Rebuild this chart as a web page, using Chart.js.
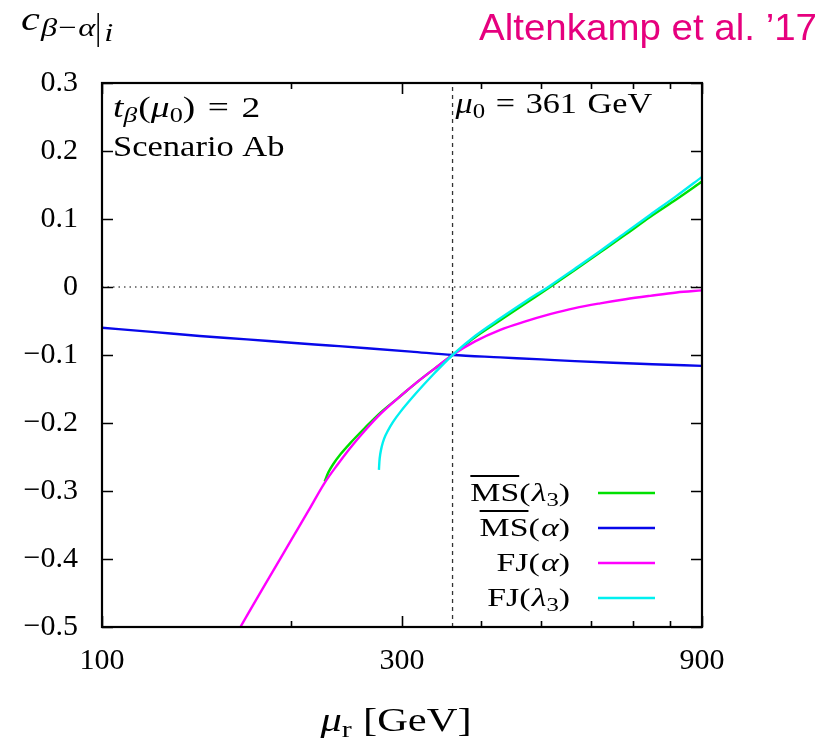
<!DOCTYPE html>
<html><head><meta charset="utf-8">
<script src="https://cdn.jsdelivr.net/npm/chart.js@4/dist/chart.umd.min.js"></script>
<style>html,body{margin:0;padding:0;background:#fff}#wrap{width:824px;height:744px;position:relative}</style>
</head><body><div id="wrap"><canvas id="c" width="824" height="744"></canvas></div>
<script>
// ---- data ----
const xTickValues = [100, 200, 300, 400, 500, 600, 700, 800, 900];
const xTickLabels = [100, 300, 900];
const yTickValues = [-0.5, -0.4, -0.3, -0.2, -0.1, 0, 0.1, 0.2, 0.3];
const muZero = 361;

const muMSl3 = [226, 229, 233, 240, 248, 262, 277, 296, 316, 338, 361, 392, 430, 470, 516, 565, 620, 680, 744, 820, 900];
const cMSl3  = [-0.286, -0.273, -0.261, -0.245, -0.230, -0.207, -0.185, -0.163, -0.141, -0.120, -0.100, -0.074, -0.049, -0.025, 0.000, 0.025, 0.051, 0.077, 0.103, 0.129, 0.155];

const muMSa = [100, 120, 143, 170, 200, 230, 264, 310, 361, 430, 500, 565, 650, 750, 900];
const cMSa  = [-0.060, -0.066, -0.072, -0.077, -0.082, -0.086, -0.090, -0.095, -0.100, -0.1035, -0.1065, -0.109, -0.1115, -0.1135, -0.116];

const muFJa = [150, 166, 180, 200, 213, 226, 237, 248, 262, 277, 296, 316, 338, 361, 392, 430, 470, 516, 565, 620, 680, 744, 820, 900];
const cFJa  = [-0.570, -0.500, -0.444, -0.372, -0.329, -0.288, -0.261, -0.237, -0.211, -0.187, -0.163, -0.141, -0.120, -0.100, -0.080, -0.063, -0.051, -0.040, -0.031, -0.024, -0.018, -0.013, -0.008, -0.005];

const muFJl3 = [275.7, 276.2, 277, 278.5, 281, 285, 290, 298, 316, 336, 361, 392, 430, 470, 516, 565, 620, 680, 744, 820, 900];
const cFJl3  = [-0.269, -0.256, -0.246, -0.235, -0.223, -0.211, -0.199, -0.184, -0.156, -0.129, -0.100, -0.072, -0.046, -0.022, 0.002, 0.027, 0.053, 0.080, 0.106, 0.134, 0.162];

const seriesNames = ['MS(λ3)', 'MS(α)', 'FJ(α)', 'FJ(λ3)'];
const seriesColors = ['#00e000', '#0808ea', '#ff00ff', '#00f0f0'];

// ---- helpers ----
const SERIF = '"Liberation Serif", "DejaVu Serif", serif';
const rm = n => `${n}px ${SERIF}`;
const it = n => `italic ${n}px ${SERIF}`;
const pts = (xs, ys) => xs.map((x, i) => ({x: x, y: ys[i]}));

function drawRuns(ctx, list, x, y, align, sx) {
  let w = 0;
  const ms = list.map(r => { ctx.font = r.f; const m = ctx.measureText(r.t).width; w += (r.pre || 0) + m + (r.gap || 0); return m; });
  const start = align === 'right' ? x - w * sx : align === 'center' ? x - w * sx / 2 : x;
  ctx.save();
  ctx.translate(start, y); ctx.scale(sx, 1);
  ctx.textBaseline = 'alphabetic'; ctx.textAlign = 'left';
  let cx = 0; const pos = [];
  list.forEach((r, i) => {
    cx += r.pre || 0;
    ctx.font = r.f; ctx.fillStyle = r.c || '#000';
    ctx.fillText(r.t, cx, r.dy || 0);
    pos.push([start + cx * sx, start + (cx + ms[i]) * sx]);
    cx += ms[i] + (r.gap || 0);
  });
  ctx.restore();
  return pos;
}

function legendRuns(name) {
  const out = [];
  let rest = name;
  if (rest.startsWith('MS')) { out.push({t: 'MS', f: rm(26), bar: true}); rest = rest.slice(2); }
  else if (rest.startsWith('FJ')) { out.push({t: 'FJ', f: rm(26)}); rest = rest.slice(2); }
  for (const ch of rest) {
    if (ch === '(' || ch === ')') out.push({t: ch, f: rm(26)});
    else if (ch === '3') out.push({t: ch, f: rm(19), dy: 5});
    else out.push({t: ch, f: it(26), pre: 1});
  }
  return out;
}

const decor = {
  id: 'decor',
  afterDatasetsDraw(chart) {
    const ctx = chart.ctx, a = chart.chartArea, xs = chart.scales.x, ys = chart.scales.y;
    ctx.save();
    ctx.strokeStyle = '#000';
    // ticks (inward, mirrored)
    ctx.lineWidth = 1.6;
    ctx.beginPath();
    yTickValues.forEach(v => {
      const py = Math.round(ys.getPixelForValue(v)) + 0.5;
      ctx.moveTo(a.left, py); ctx.lineTo(a.left + 11, py);
      ctx.moveTo(a.right, py); ctx.lineTo(a.right - 11, py);
    });
    xTickValues.forEach(v => {
      const px = Math.round(xs.getPixelForValue(v)) + 0.5;
      const len = xTickLabels.includes(v) ? 11 : 6;
      ctx.moveTo(px, a.bottom); ctx.lineTo(px, a.bottom - len);
      ctx.moveTo(px, a.top); ctx.lineTo(px, a.top + len);
    });
    ctx.stroke();
    // frame
    ctx.lineWidth = 2.2;
    ctx.strokeRect(a.left, a.top, a.right - a.left, a.bottom - a.top);

    // legend
    const rowY0 = a.top + 410, rowDY = 35;
    seriesNames.forEach((name, i) => {
      const cy = rowY0 + i * rowDY;
      const runs = legendRuns(name);
      const pos = drawRuns(ctx, runs, a.left + 468, cy + 8, 'right', 1.3);
      if (runs[0].bar) {
        ctx.lineWidth = 2; ctx.strokeStyle = '#000';
        ctx.beginPath(); ctx.moveTo(pos[0][0], cy - 17); ctx.lineTo(pos[0][1], cy - 17); ctx.stroke();
      }
      ctx.strokeStyle = seriesColors[i]; ctx.lineWidth = 2.4;
      ctx.beginPath(); ctx.moveTo(a.left + 496, cy); ctx.lineTo(a.left + 553, cy); ctx.stroke();
    });

    // annotations inside the plot
    drawRuns(ctx, [
      {t: 't', f: it(30)}, {t: 'β', f: it(22), dy: 5},
      {t: '(', f: rm(30), pre: 1}, {t: 'μ', f: it(30)}, {t: '0', f: rm(21), dy: 5}, {t: ')', f: rm(30)},
      {t: '=', f: rm(30), pre: 10, gap: 10}, {t: '2', f: rm(30)}
    ], a.left + 11, a.top + 34, 'left', 1.25);
    drawRuns(ctx, [{t: 'Scenario Ab', f: rm(29)}], a.left + 11, a.top + 73, 'left', 1.19);
    drawRuns(ctx, [
      {t: 'μ', f: it(29)}, {t: '0', f: rm(21), dy: 5},
      {t: '=', f: rm(29), pre: 9, gap: 9}, {t: '361', f: rm(29)}, {t: 'GeV', f: rm(29), pre: 9}
    ], xs.getPixelForValue(muZero) + 3, a.top + 30, 'left', 1.18);
    ctx.restore();
  },
  afterDraw(chart) {
    const ctx = chart.ctx, a = chart.chartArea;
    ctx.save();
    // y-axis title  c_{β−α}|_i
    const p = drawRuns(ctx, [
      {t: 'c', f: it(34)},
      {t: 'β', f: it(26), dy: 6, pre: 1}, {t: '−', f: rm(26), dy: 6, pre: 1, gap: 1}, {t: 'α', f: it(26), dy: 6}
    ], 21, 30, 'left', 1.25);
    const bx = p[p.length - 1][1] + 3;
    ctx.strokeStyle = '#000'; ctx.lineWidth = 1.5;
    ctx.beginPath(); ctx.moveTo(bx, 13); ctx.lineTo(bx, 47); ctx.stroke();
    drawRuns(ctx, [{t: 'i', f: it(26)}], bx + 6, 41, 'left', 1.25);
    // x-axis title μ_r [GeV]
    drawRuns(ctx, [
      {t: 'μ', f: it(34)}, {t: 'r', f: rm(24), dy: 6}, {t: '[GeV]', f: rm(34), pre: 9}
    ], (a.left + a.right) / 2 - 6, 731, 'center', 1.25);
    // corner credit
    drawRuns(ctx, [{t: 'Altenkamp et al. ’17', f: '37px "Liberation Sans", Arial, sans-serif', c: 'rgb(230,0,126)'}], 817, 40, 'right', 1.04);
    ctx.restore();
  }
};

const lineDs = (label, xs, ys, color, order) => ({
  label: label, data: pts(xs, ys), borderColor: color, backgroundColor: color,
  showLine: true, pointRadius: 0, borderWidth: 2.4, cubicInterpolationMode: 'monotone', order: order
});

new Chart(document.getElementById('c'), {
  type: 'scatter',
  data: {
    datasets: [
      lineDs(seriesNames[0], muMSl3, cMSl3, seriesColors[0], 3),
      lineDs(seriesNames[1], muMSa, cMSa, seriesColors[1], 2),
      lineDs(seriesNames[2], muFJa, cFJa, seriesColors[2], 1),
      lineDs(seriesNames[3], muFJl3, cFJl3, seriesColors[3], 0),
      {label: 'zero', data: [{x: 100, y: 0}, {x: 900, y: 0}], showLine: true, pointRadius: 0,
       borderColor: '#555', borderWidth: 1.3, borderDash: [1.5, 4], tension: 0, order: 6},
      {label: 'mu0', data: [{x: muZero, y: -0.5}, {x: muZero, y: 0.3}], showLine: true, pointRadius: 0,
       borderColor: '#333', borderWidth: 1.3, borderDash: [4, 4], tension: 0, order: 5}
    ]
  },
  options: {
    responsive: false, animation: false, devicePixelRatio: 1,
    layout: {padding: {top: 83, right: 122, left: 0, bottom: 0}},
    plugins: {legend: {display: false}, tooltip: {enabled: false}},
    scales: {
      x: {
        type: 'logarithmic', min: 100, max: 900,
        afterBuildTicks: s => { s.ticks = xTickValues.map(v => ({value: v})); },
        afterFit: s => { s.height = 117; },
        grid: {display: false, drawTicks: false}, border: {display: false},
        ticks: {autoSkip: false, maxRotation: 0, padding: 16, color: '#000', font: {family: SERIF, size: 30},
          callback: v => xTickLabels.includes(v) ? String(v) : ''}
      },
      y: {
        type: 'linear', min: -0.5, max: 0.3,
        afterBuildTicks: s => { s.ticks = yTickValues.map(v => ({value: v})); },
        afterFit: s => { s.width = 102; },
        grid: {display: false, drawTicks: false}, border: {display: false},
        ticks: {padding: 24, color: '#000', font: {family: SERIF, size: 30},
          callback: v => Math.abs(v) < 1e-9 ? '0' : v.toFixed(1).replace('-', '−')}
      }
    }
  },
  plugins: [decor]
});
</script></body></html>
